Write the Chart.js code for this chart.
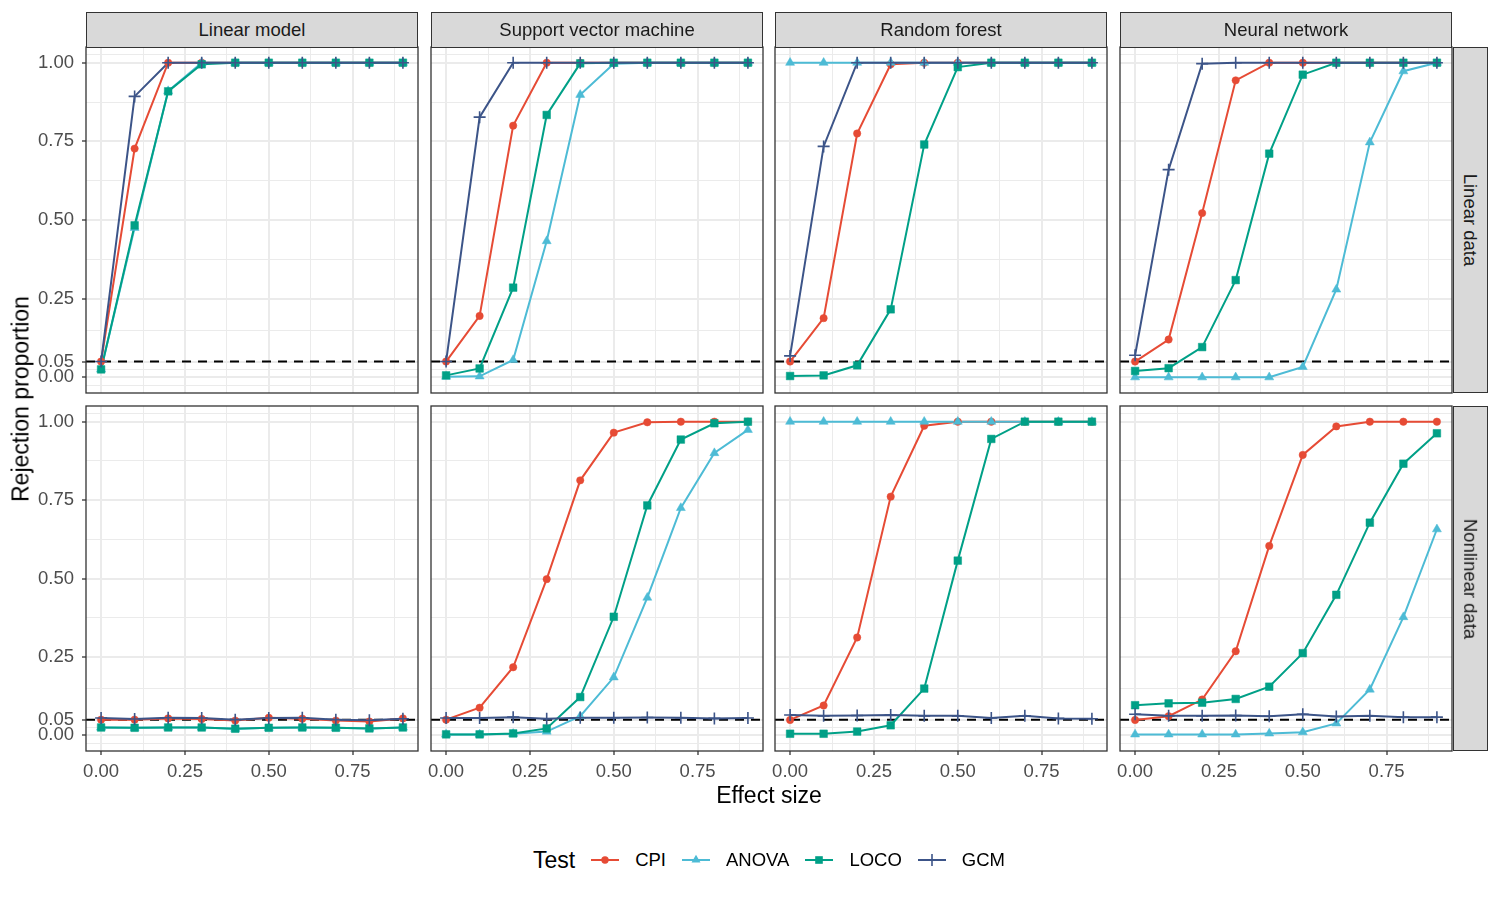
<!DOCTYPE html>
<html>
<head>
<meta charset="utf-8">
<script src="https://cdn.jsdelivr.net/npm/chart.js@4.4.0/dist/chart.umd.min.js"></script>
<style>
body{margin:0;background:#fff;font-family:"Liberation Sans",Arial,sans-serif;}
#fig{position:relative;width:1500px;height:900px;overflow:hidden;background:#fff;}
canvas{position:absolute;}
.strip{position:absolute;background:#D9D9D9;border:1.3px solid #333;box-sizing:border-box;color:#1A1A1A;font-size:18.5px;display:flex;align-items:center;justify-content:center;}
.strip.side span{display:block;transform:rotate(90deg);white-space:nowrap;}
.title{position:absolute;color:#000;font-size:23px;white-space:nowrap;}
#legend{position:absolute;left:0;width:1538px;top:846px;height:28px;display:flex;align-items:center;justify-content:center;font-size:18.5px;color:#000;}
#legend .lt{font-size:23px;margin-right:16px;}
#legend svg{margin-right:16px;}
#legend .lab{margin-right:16px;}
#legend .lab:last-child{margin-right:0;}
</style>
</head>
<body>
<div id="fig"></div>
<script>
// effect sizes on the x axis
const effectSizes = [0, 0.1, 0.2, 0.3, 0.4, 0.5, 0.6, 0.7, 0.8, 0.9];
const models = ['Linear model', 'Support vector machine', 'Random forest', 'Neural network'];
const dataTypes = ['Linear data', 'Nonlinear data'];
const tests = ['CPI', 'ANOVA', 'LOCO', 'GCM'];
const alphaLevel = 0.05;
const yTicks = [0, 0.05, 0.25, 0.5, 0.75, 1];
const xTicks = [0, 0.25, 0.5, 0.75];
const yMinor = [-0.025, 0.025, 0.15, 0.375, 0.625, 0.875, 1.025];
const xMinor = [0.125, 0.375, 0.625, 0.875];

// rejection proportions, rows: linear model, SVM, random forest, neural net
const linCPI = [
  [0.05, 0.727, 1, 1, 1, 1, 1, 1, 1, 1],
  [0.05, 0.195, 0.8, 1, 1, 1, 1, 1, 1, 1],
  [0.05, 0.188, 0.775, 0.995, 1, 1, 1, 1, 1, 1],
  [0.05, 0.12, 0.522, 0.944, 1, 1, 1, 1, 1, 1]
];
const linANOVA = [
  [0.025, 0.475, 0.91, 1, 1, 1, 1, 1, 1, 1],
  [0.002, 0.003, 0.055, 0.433, 0.898, 0.997, 1, 1, 1, 1],
  [1, 1, 1, 1, 1, 1, 1, 1, 1, 1],
  [0, 0, 0, 0, 0, 0.033, 0.279, 0.747, 0.973, 1]
];
const linLOCO = [
  [0.025, 0.483, 0.909, 0.995, 1, 1, 1, 1, 1, 1],
  [0.006, 0.028, 0.285, 0.834, 0.998, 1, 1, 1, 1, 1],
  [0.004, 0.006, 0.038, 0.216, 0.74, 0.986, 1, 1, 1, 1],
  [0.02, 0.029, 0.096, 0.309, 0.711, 0.962, 1, 1, 1, 1]
];
const linGCM = [
  [0.05, 0.893, 1, 1, 1, 1, 1, 1, 1, 1],
  [0.05, 0.827, 1, 1, 1, 1, 1, 1, 1, 1],
  [0.068, 0.734, 1, 1, 1, 1, 1, 1, 1, 1],
  [0.07, 0.66, 0.997, 1, 1, 1, 1, 1, 1, 1]
];
const nonCPI = [
  [0.05, 0.05, 0.054, 0.052, 0.047, 0.056, 0.053, 0.047, 0.044, 0.054],
  [0.05, 0.088, 0.217, 0.498, 0.813, 0.965, 0.998, 1, 1, 1],
  [0.049, 0.095, 0.312, 0.761, 0.987, 1, 1, 1, 1, 1],
  [0.049, 0.061, 0.114, 0.268, 0.604, 0.894, 0.985, 1, 1, 1]
];
const nonANOVA = [
  [0.025, 0.024, 0.025, 0.025, 0.021, 0.024, 0.025, 0.024, 0.022, 0.025],
  [0.003, 0.003, 0.005, 0.012, 0.061, 0.185, 0.439, 0.725, 0.9, 0.974],
  [1, 1, 1, 1, 1, 1, 1, 1, 1, 1],
  [0.003, 0.003, 0.003, 0.003, 0.006, 0.01, 0.038, 0.146, 0.377, 0.657]
];
const nonLOCO = [
  [0.025, 0.024, 0.025, 0.025, 0.021, 0.024, 0.025, 0.024, 0.022, 0.025],
  [0.003, 0.003, 0.006, 0.022, 0.122, 0.378, 0.733, 0.943, 0.995, 1],
  [0.005, 0.005, 0.012, 0.032, 0.149, 0.557, 0.945, 1, 1, 1],
  [0.096, 0.102, 0.104, 0.116, 0.155, 0.262, 0.448, 0.678, 0.866, 0.963]
];
const nonGCM = [
  [0.055, 0.052, 0.056, 0.055, 0.05, 0.055, 0.056, 0.05, 0.048, 0.053],
  [0.055, 0.055, 0.058, 0.053, 0.056, 0.056, 0.057, 0.056, 0.054, 0.055],
  [0.065, 0.062, 0.063, 0.065, 0.062, 0.062, 0.055, 0.062, 0.054, 0.053],
  [0.067, 0.062, 0.062, 0.063, 0.061, 0.067, 0.06, 0.062, 0.058, 0.058]
];

const seriesByRow = [
  [linCPI, linANOVA, linLOCO, linGCM],
  [nonCPI, nonANOVA, nonLOCO, nonGCM]
];

// look
const testColors = ['#E64B35', '#4DBBD5', '#00A087', '#3C5488'];
const testShapes = ['circle', 'triangle', 'rect', 'cross'];
const testRadius = [3.7, 5.2, 5.4, 6];
const FONT = '"Liberation Sans", Arial, sans-serif';

// panel geometry (ggplot facet grid)
const colLeft = [86, 431, 775, 1120];
const panelW = 332;
const rowTop = [47, 406];
const rowH = [346, 345];
const yAxisW = 86, xAxisH = 45, M = 25;

const fig = document.getElementById('fig');

function isIn(arr, v) {
  return arr.some(a => Math.abs(a - v) < 1e-9);
}

const panelDecor = {
  id: 'panelDecor',
  beforeDatasetsDraw(chart) {
    const {ctx, chartArea: a, scales} = chart;
    const y = scales.y.getPixelForValue(alphaLevel);
    ctx.save();
    ctx.strokeStyle = '#000';
    ctx.lineWidth = 2;
    ctx.setLineDash([9, 7]);
    ctx.beginPath();
    ctx.moveTo(a.left, y);
    ctx.lineTo(a.right, y);
    ctx.stroke();
    ctx.restore();
  },
  afterDraw(chart) {
    const {ctx, chartArea: a} = chart;
    ctx.save();
    ctx.strokeStyle = '#333333';
    ctx.lineWidth = 1.3;
    ctx.strokeRect(a.left, a.top, a.right - a.left, a.bottom - a.top);
    ctx.restore();
  }
};

function makePanel(r, c) {
  const showY = c === 0, showX = r === 1;
  const padL = showY ? 0 : M;
  const padB = showX ? 0 : M;
  const leftW = showY ? yAxisW : 0;
  const botH = showX ? xAxisH : 0;
  const cv = document.createElement('canvas');
  const w = padL + leftW + panelW + M;
  const h = M + rowH[r] + botH + padB;
  cv.width = w; cv.height = h;
  cv.style.left = (colLeft[c] - leftW - padL) + 'px';
  cv.style.top = (rowTop[r] - M) + 'px';
  cv.style.width = w + 'px'; cv.style.height = h + 'px';
  fig.appendChild(cv);

  const datasets = [];
  tests.forEach((t, k) => {
    const pts = effectSizes.map((e, i) => ({x: e, y: seriesByRow[r][k][c][i]}));
    datasets.push({
      label: t + ' line', data: pts, order: 10 + (3 - k),
      borderColor: testColors[k], borderWidth: 2, pointRadius: 0, tension: 0, fill: false
    });
    datasets.push({
      label: t, data: pts, order: 3 - k, showLine: false,
      pointStyle: testShapes[k], pointRadius: testRadius[k],
      pointBackgroundColor: testColors[k], pointBorderColor: testColors[k],
      pointBorderWidth: testShapes[k] === 'cross' ? 1.6 : 0.5,
      borderColor: testColors[k]
    });
  });

  new Chart(cv, {
    type: 'line',
    data: {datasets},
    options: {
      responsive: false, animation: false, devicePixelRatio: 1, events: [],
      layout: {autoPadding: false, padding: {left: padL, right: M, top: M, bottom: padB}},
      plugins: {legend: {display: false}, tooltip: {enabled: false}},
      scales: {
        x: {
          type: 'linear', min: -0.045, max: 0.945,
          afterBuildTicks: s => { s.ticks = xTicks.concat(xMinor).sort((a, b) => a - b).map(v => ({value: v})); },
          afterFit: s => { s.height = botH; },
          ticks: {
            display: showX, autoSkip: false, maxRotation: 0, minRotation: 0, padding: 6,
            color: '#4D4D4D', font: {size: 18.5, family: FONT},
            callback: v => isIn(xTicks, v) ? v.toFixed(2) : ''
          },
          grid: {
            color: '#EBEBEB',
            lineWidth: ctx => isIn(xTicks, ctx.tick.value) ? 2 : 1,
            drawTicks: showX, tickLength: 4, tickWidth: 1.3,
            tickColor: ctx => isIn(xTicks, ctx.tick.value) ? '#333333' : 'rgba(0,0,0,0)'
          },
          border: {display: false}
        },
        y: {
          type: 'linear', min: -0.05, max: 1.05,
          afterBuildTicks: s => { s.ticks = yTicks.concat(yMinor).sort((a, b) => a - b).map(v => ({value: v})); },
          afterFit: s => { s.width = leftW; },
          ticks: {
            display: showY, autoSkip: false, padding: 8,
            color: '#4D4D4D', font: {size: 18.5, family: FONT},
            callback: v => isIn(yTicks, v) ? v.toFixed(2) : ''
          },
          grid: {
            color: '#EBEBEB',
            lineWidth: ctx => isIn(yTicks, ctx.tick.value) ? 2 : 1,
            drawTicks: showY, tickLength: 4, tickWidth: 1.3,
            tickColor: ctx => isIn(yTicks, ctx.tick.value) ? '#333333' : 'rgba(0,0,0,0)'
          },
          border: {display: false}
        }
      }
    },
    plugins: [panelDecor]
  });
}

for (let r = 0; r < 2; r++) for (let c = 0; c < 4; c++) makePanel(r, c);

// facet strips
models.forEach((m, c) => {
  const d = document.createElement('div');
  d.className = 'strip';
  d.style.left = colLeft[c] + 'px'; d.style.top = '12px';
  d.style.width = panelW + 'px'; d.style.height = '35.5px';
  d.textContent = m;
  fig.appendChild(d);
});
dataTypes.forEach((t, r) => {
  const d = document.createElement('div');
  d.className = 'strip side';
  d.style.left = (colLeft[3] + panelW + 0.5) + 'px'; d.style.top = rowTop[r] + 'px';
  d.style.width = '35.5px'; d.style.height = rowH[r] + 'px';
  d.innerHTML = '<span>' + t + '</span>';
  fig.appendChild(d);
});

// axis titles
const xt = document.createElement('div');
xt.className = 'title'; xt.textContent = 'Effect size';
xt.style.left = '769px'; xt.style.top = '795px'; xt.style.transform = 'translate(-50%,-50%)';
fig.appendChild(xt);
const yt = document.createElement('div');
yt.className = 'title'; yt.textContent = 'Rejection proportion';
yt.style.left = '21px'; yt.style.top = '399px'; yt.style.transform = 'translate(-50%,-50%) rotate(-90deg)';
fig.appendChild(yt);

// legend
function keySvg(k) {
  const col = testColors[k];
  let shape = '';
  if (k === 0) shape = `<circle cx="14" cy="14" r="3.7" fill="${col}"/>`;
  if (k === 1) shape = `<polygon points="14,8.8 18.5,16.6 9.5,16.6" fill="${col}"/>`;
  if (k === 2) shape = `<rect x="10.2" y="10.2" width="7.6" height="7.6" fill="${col}"/>`;
  if (k === 3) shape = `<path d="M8 14H20M14 8V20" stroke="${col}" stroke-width="1.6"/>`;
  return `<svg width="28" height="28"><line x1="0" y1="14" x2="28" y2="14" stroke="${col}" stroke-width="2"/>${shape}</svg>`;
}
const lg = document.createElement('div');
lg.id = 'legend';
let html = '<span class="lt">Test</span>';
tests.forEach((t, k) => { html += keySvg(k) + '<span class="lab">' + t + '</span>'; });
lg.innerHTML = html;
fig.appendChild(lg);
</script>
</body>
</html>
